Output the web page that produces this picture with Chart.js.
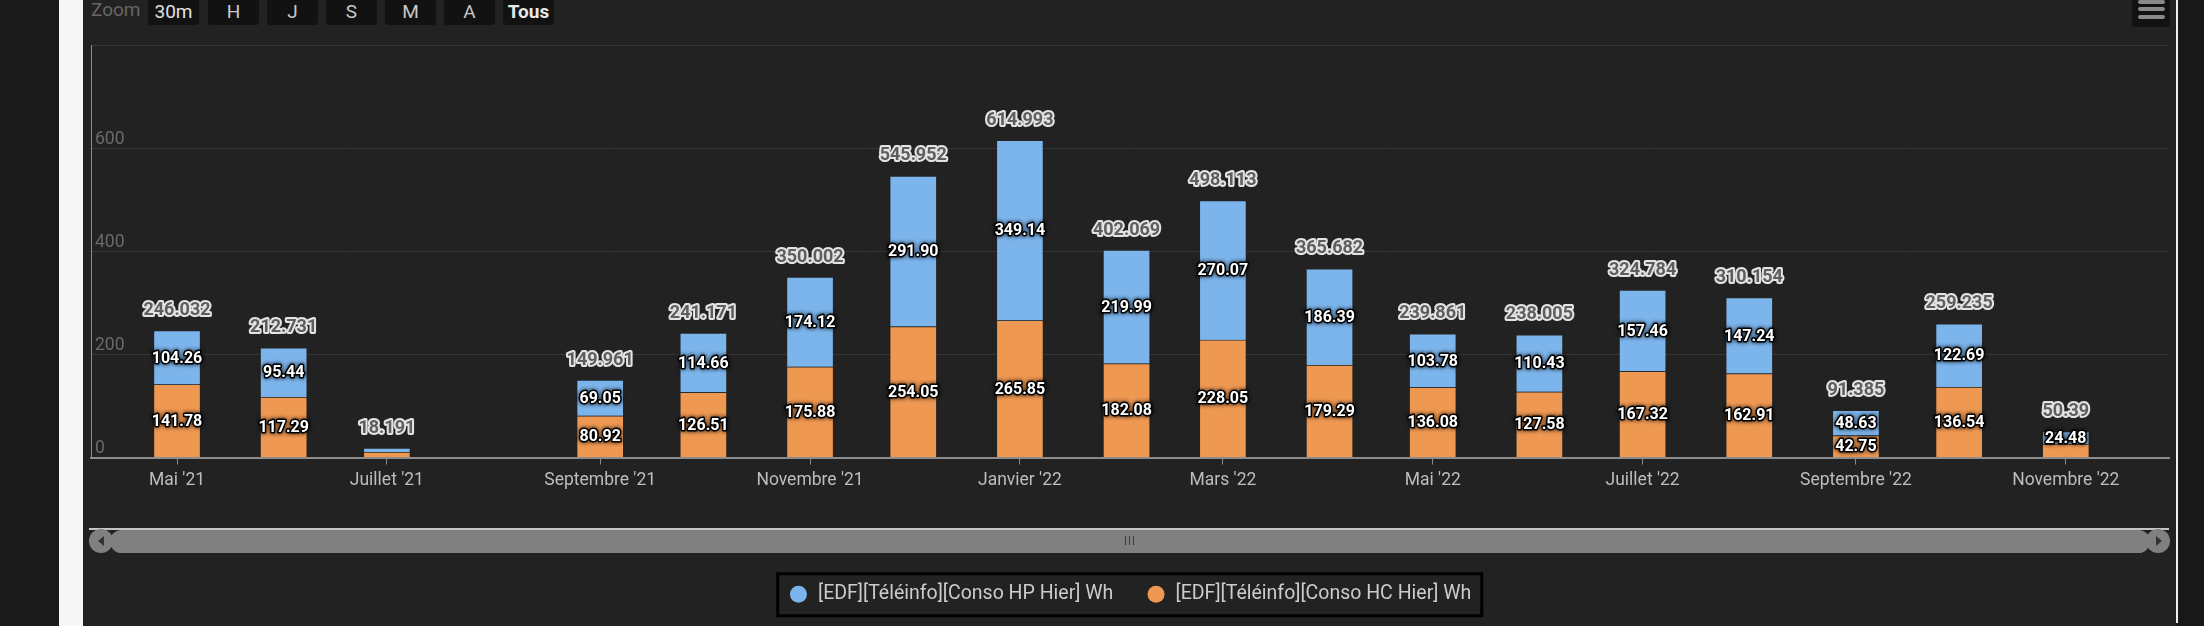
<!DOCTYPE html>
<html>
<head>
<meta charset="utf-8">
<script src="https://cdn.jsdelivr.net/npm/chart.js@4.4.1/dist/chart.umd.min.js"></script>
<style>
  body { margin: 0; width: 2204px; height: 626px; background: #181818; overflow: hidden; font-family: Roboto, sans-serif; position: relative; }
  .abs { position: absolute; }
  #side { left: 0; top: 0; width: 59px; height: 626px; background: #1b1b1b; }
  #strip { left: 59px; top: 0; width: 24px; height: 626px; background: #f7f7f7; }
  #panel { left: 83px; top: 0; width: 2093px; height: 626px; background: #222; }
  #edge { left: 2176px; top: 0; width: 2px; height: 623px; background: #eee; }
  #chartBox { left: 83px; top: 0; width: 2093px; height: 620px; }
  .zlabel { left: 91px; top: -1px; font-size: 19px; color: #666; line-height: 22px; }
  .btn { top: -6px; width: 51px; height: 31px; background: #121212; border-radius: 3px; color: #c8c8c8;
         font-size: 19px; line-height: 31px; text-align: center; }
  .btn span { position: relative; top: 2px; }
  #menu { left: 2132px; top: -4px; width: 38px; height: 31px; background: #121212; border-radius: 3px; }
  .bar3 { left: 6px; width: 27px; height: 4px; background: #8a8a8a; border-radius: 2px; }
  #track { left: 89px; top: 528px; width: 2080px; height: 2px; background: #c4c4c4; }
  #thumb { left: 110px; top: 530px; width: 2040px; height: 23px; background: #808080; border-radius: 12px; }
  .circ { top: 529px; width: 24px; height: 24px; border-radius: 12px; background: #808080; }
  .grip { top: 536px; width: 1px; height: 9px; background: #3a3a3a; }
</style>
</head>
<body>
<div id="side" class="abs"></div>
<div id="strip" class="abs"></div>
<div id="panel" class="abs"></div>
<div id="edge" class="abs"></div>

<div class="abs zlabel">Zoom</div>
<div class="abs btn" style="left:148px;color:#e0e0e0"><span>30m</span></div>
<div class="abs btn" style="left:208px"><span>H</span></div>
<div class="abs btn" style="left:267px"><span>J</span></div>
<div class="abs btn" style="left:326px"><span>S</span></div>
<div class="abs btn" style="left:385px"><span>M</span></div>
<div class="abs btn" style="left:444px"><span>A</span></div>
<div class="abs btn" style="left:503px;color:#e8e8e8;font-weight:bold"><span>Tous</span></div>

<div id="menu" class="abs">
  <div class="abs bar3" style="top:4px"></div>
  <div class="abs bar3" style="top:11px"></div>
  <div class="abs bar3" style="top:19px"></div>
</div>

<div id="chartBox" class="abs"><canvas id="chart"></canvas></div>

<!-- navigator scrollbar -->
<div id="track" class="abs"></div>
<div id="thumb" class="abs"></div>
<div class="abs circ" style="left:89px"></div>
<div class="abs circ" style="left:2146px"></div>
<div class="abs" style="left:98px;top:536px;width:0;height:0;border-top:5px solid transparent;border-bottom:5px solid transparent;border-right:6px solid #333"></div>
<div class="abs" style="left:2156px;top:536px;width:0;height:0;border-top:5px solid transparent;border-bottom:5px solid transparent;border-left:6px solid #333"></div>
<div class="abs grip" style="left:1125px"></div>
<div class="abs grip" style="left:1129px"></div>
<div class="abs grip" style="left:1133px"></div>

<script>
// months (first day) of each column
const monthDates = ['2021-05-01', '2021-06-01', '2021-07-01', '2021-08-01', '2021-09-01', '2021-10-01',
    '2021-11-01', '2021-12-01', '2022-01-01', '2022-02-01', '2022-03-01', '2022-04-01',
    '2022-05-01', '2022-06-01', '2022-07-01', '2022-08-01', '2022-09-01', '2022-10-01', '2022-11-01']

// Conso HC (bottom, orange) and HP (top, blue), Wh
const hcValues = [141.78, 117.29, 10.50, null, 80.92, 126.51, 175.88, 254.05, 265.85, 182.08, 228.05, 179.29,
    136.08, 127.58, 167.32, 162.91, 42.75, 136.54, 25.91]
const hpValues = [104.26, 95.44, 7.69, null, 69.05, 114.66, 174.12, 291.90, 349.14, 219.99, 270.07, 186.39,
    103.78, 110.43, 157.46, 147.24, 48.63, 122.69, 24.48]
const stackTotals = [246.032, 212.731, 18.191, null, 149.961, 241.171, 350.002, 545.952, 614.993, 402.069,
    498.113, 365.682, 239.861, 238.005, 324.784, 310.154, 91.385, 259.235, 50.39]

const tickDates = ['2021-05-01', '2021-07-01', '2021-09-01', '2021-11-01', '2022-01-01',
    '2022-03-01', '2022-05-01', '2022-07-01', '2022-09-01', '2022-11-01']
const tickLabels = ["Mai '21", "Juillet '21", "Septembre '21", "Novembre '21", "Janvier '22",
    "Mars '22", "Mai '22", "Juillet '22", "Septembre '22", "Novembre '22"]

const yTicks = [0, 200, 400, 600]

const seriesNames = ['[EDF][Téléinfo][Conso HC Hier] Wh', '[EDF][Téléinfo][Conso HP Hier] Wh']

function day(d) {
    return Date.parse(d + 'T00:00:00Z') / 86400000
}

function points(values) {
    return values.map((v, i) => ({ x: day(monthDates[i]), y: v }))
}

// text with outline, highcharts style
function outlined(ctx, text, x, y, fill, stroke, width, blur) {
    ctx.save()
    if (blur) {
        ctx.shadowColor = 'rgba(0,0,0,0.9)'
        ctx.shadowBlur = blur
    }
    ctx.strokeStyle = stroke
    ctx.lineWidth = width
    ctx.strokeText(text, x, y)
    ctx.restore()
    ctx.fillStyle = fill
    ctx.fillText(text, x, y)
}

const stackLabels = {
    id: 'stackLabels',
    afterDatasetsDraw(chart) {
        const ctx = chart.ctx
        const hcBars = chart.getDatasetMeta(0).data
        const hpBars = chart.getDatasetMeta(1).data
        ctx.save()
        ctx.textAlign = 'center'
        ctx.textBaseline = 'middle'
        ctx.lineJoin = 'round'

        ctx.font = 'bold 16px Roboto'
        for (let i = 0; i < monthDates.length; i++) {
            if (hcValues[i] === null) continue
            const a = hcBars[i], b = hpBars[i]
            const ha = a.base - a.y, hb = b.base - b.y
            const ca = (a.base + a.y) / 2, cb = (b.base + b.y) / 2
            let showA = ha >= 12, showB = hb >= 12
            if (showA && showB && Math.abs(ca - cb) < 18) showA = false
            if (showA) outlined(ctx, hcValues[i].toFixed(2), a.x, ca + 1, '#fff', '#000', 3, 4)
            if (showB) outlined(ctx, hpValues[i].toFixed(2), b.x, cb + 1, '#fff', '#000', 3, 4)
        }

        ctx.font = 'bold 18px Roboto'
        for (let i = 0; i < monthDates.length; i++) {
            if (stackTotals[i] === null) continue
            const top = Math.min(hcBars[i].y, hpBars[i].y)
            outlined(ctx, String(stackTotals[i]), hpBars[i].x, top - 20, '#5e5e5e', '#e4e4e4', 4, 0)
        }
        ctx.restore()
    }
}

const legendFrame = {
    id: 'legendFrame',
    afterDraw(chart) {
        const boxes = chart.legend.legendHitBoxes
        if (!boxes || !boxes.length) return
        const ctx = chart.ctx
        const l = Math.min(...boxes.map(b => b.left)) - 11
        const r = Math.max(...boxes.map(b => b.left + b.width)) + 10.5
        const t = boxes[0].top - 10.75
        const btm = boxes[0].top + boxes[0].height + 11.75
        ctx.save()
        ctx.strokeStyle = '#000'
        ctx.lineWidth = 3
        ctx.strokeRect(l, t, r - l, btm - t)
        ctx.restore()
    }
}

Chart.defaults.font.family = 'Roboto'

new Chart(document.getElementById('chart'), {
    type: 'bar',
    data: {
        datasets: [{
                label: seriesNames[0],
                data: points(hcValues),
                backgroundColor: '#ef9852',
                borderColor: 'rgba(40,40,40,0.45)',
                borderWidth: 1,
                barThickness: 47
            },
            {
                label: seriesNames[1],
                data: points(hpValues),
                backgroundColor: '#7cb5ec',
                borderColor: 'rgba(40,40,40,0.45)',
                borderWidth: 1,
                barThickness: 47
            }
        ]
    },
    options: {
        responsive: true,
        maintainAspectRatio: false,
        animation: false,
        layout: { padding: { left: 8, right: 7, top: 45, bottom: 6 } },
        scales: {
            x: {
                type: 'linear',
                stacked: true,
                offset: false,
                min: day(monthDates[0]) - 25,
                max: day('2022-12-01'),
                afterBuildTicks: (scale) => {
                    scale.ticks = tickDates.map(d => ({ value: day(d) }))
                },
                afterFit: (scale) => { scale.height = 94 },
                grid: { display: true, drawOnChartArea: false, drawTicks: true, tickLength: 7, color: '#8c8c8c', offset: false },
                border: { display: true, color: '#8c8c8c', width: 2 },
                ticks: {
                    color: '#bdbdbd',
                    font: { size: 17.5 },
                    padding: 6,
                    maxRotation: 0,
                    autoSkip: false,
                    callback: (v) => tickLabels[tickDates.findIndex(d => day(d) === v)]
                }
            },
            y: {
                stacked: true,
                min: 0,
                max: 800,
                afterBuildTicks: (scale) => {
                    scale.ticks = [0, 200, 400, 600, 800].map(v => ({ value: v }))
                },
                afterFit: (scale) => { scale.width = 0 },
                grid: { color: '#363636', lineWidth: 1, drawTicks: false },
                border: { display: true, color: '#8c8c8c', width: 1 },
                ticks: {
                    mirror: true,
                    padding: 4,
                    labelOffset: -9,
                    color: '#6a6a6a',
                    font: { size: 17.5 },
                    callback: (v) => yTicks.includes(v) ? String(v) : ''
                }
            }
        },
        plugins: {
            tooltip: { enabled: false },
            legend: {
                position: 'bottom',
                reverse: true,
                labels: {
                    color: '#cccccc',
                    font: { size: 19.5 },
                    usePointStyle: true,
                    pointStyle: 'circle',
                    boxWidth: 22.5,
                    boxHeight: 12,
                    padding: 33,
                    generateLabels: (chart) => {
                        const items = Chart.defaults.plugins.legend.labels.generateLabels(chart)
                        items.forEach(it => { it.lineWidth = 0 })
                        return items
                    }
                }
            }
        }
    },
    plugins: [stackLabels, legendFrame]
});
</script>
</body>
</html>
